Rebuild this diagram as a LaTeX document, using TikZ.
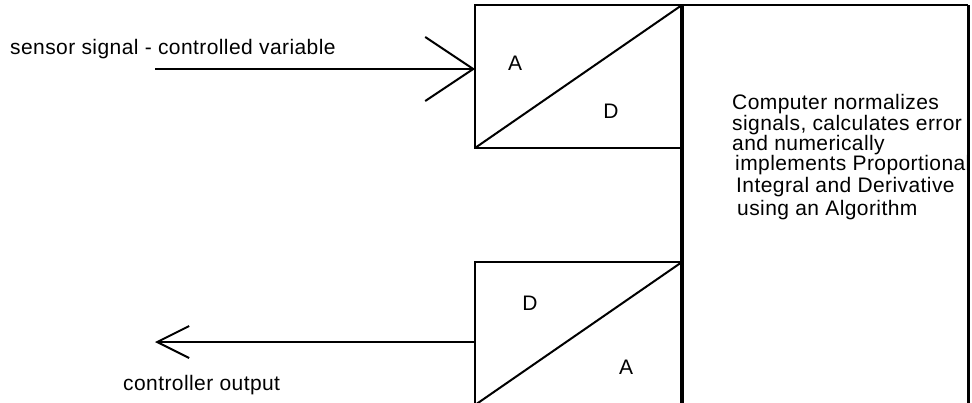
\documentclass[tikz,border=0pt]{standalone}
\usepackage{fontspec}
\setmainfont{Liberation Sans}[LetterSpace=2]
\usetikzlibrary{arrows.meta}

\tikzset{
  conv/.style={draw, line width=2pt, minimum width=207pt, minimum height=143pt,
    inner sep=0pt, outer sep=0pt, anchor=north west},
  lbl/.style={font=\fontsize{21}{25}\selectfont, inner sep=0pt, anchor=base west},
  sig/.style={line width=2pt},
}

\begin{document}
\begin{tikzpicture}[x=1pt, y=-1pt]
            \useasboundingbox (0,0) rectangle (972,402);

            % 1. The two converters and the computer
            \node[conv] (adc) at (475,5) {};
            \node[conv] (dac) at (475,262) {};
            \draw[sig] (adc.south west) -- (adc.north east);
            \draw[sig] (dac.south west) -- (dac.north east);

            \coordinate (pc-tl) at (682,5);
            \coordinate (pc-tr) at (968,5);
            \draw[sig] (pc-tl) -- (pc-tr);
            \draw[line width=4pt] (pc-tl) -- (682,420);
            \draw[line width=3pt] (pc-tr) -- (968,420);

            % 2. Converter letters
            \node[lbl, anchor=base] (adcA) at (515,70) {A};
            \node[lbl, anchor=base] (adcD) at (611,118) {D};
            \node[lbl, anchor=base] (dacD) at (530,310) {D};
            \node[lbl, anchor=base] (dacA) at (626,374) {A};

            % 3. Signals in and out
            \coordinate (sensor) at (155,69);
            \coordinate (output) at (155,342);
            \draw[sig, -{Straight Barb[length=48pt, width=64pt]}] (sensor) -- (adc.west |- sensor);
            \draw[sig, -{Straight Barb[length=32pt, width=32pt]}] (dac.west |- output) -- (output);
            \node[lbl] (sensorlbl) at (10,54) {sensor signal - controlled variable};
            \node[lbl] (outputlbl) at (123,390) {controller output};

            % 4. What the computer does
            \foreach \x/\y/\t [count=\i] in {732/109/Computer normalizes,
                732/130/{signals, calculates error}, 732/150/and numerically,
                735/170/implements Proportional, 736/192/Integral and Derivative,
                737/215/using an Algorithm}
              \node[lbl] (algo\i) at (\x,\y) {\t};
          \end{tikzpicture}
\end{document}
